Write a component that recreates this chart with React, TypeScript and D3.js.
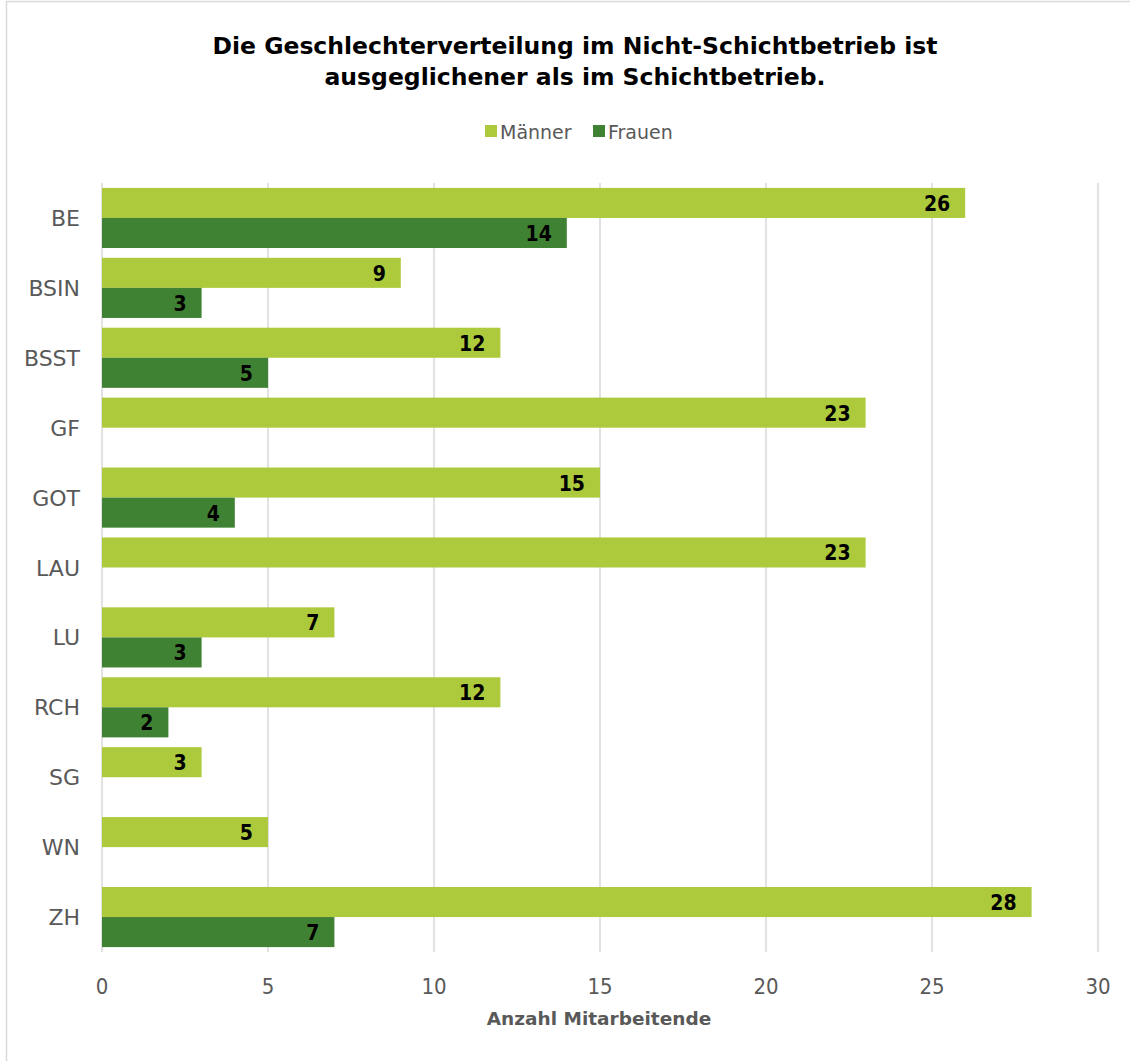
import React from "react";
import * as d3 from "d3";

const categories = ["BE", "BSIN", "BSST", "GF", "GOT", "LAU", "LU", "RCH", "SG", "WN", "ZH"];
const maenner = [26, 9, 12, 23, 15, 23, 7, 12, 3, 5, 28];
const frauen: (number | null)[] = [14, 3, 5, null, 4, null, 3, 2, null, null, 7];
const seriesNames = ["Männer", "Frauen"];
const seriesColors = ["#acca3c", "#408233"];
const xTicks = [0, 5, 10, 15, 20, 25, 30];
const titleLines = [
  "Die Geschlechterverteilung im Nicht-Schichtbetrieb ist",
  "ausgeglichener als im Schichtbetrieb.",
];
const xAxisTitle = "Anzahl Mitarbeitende";

const W = 1130;
const H = 1061;
const FONT_C = "'DejaVu Sans Condensed', 'DejaVu Sans', sans-serif";
const FONT = "'DejaVu Sans', sans-serif";

export default function App() {
  const x = d3.scaleLinear().domain([0, 30]).range([102, 1098]);
  const y0 = d3
    .scaleBand<string>()
    .domain(categories)
    .range([183, 952])
    .paddingInner(0.14)
    .paddingOuter(0.07);
  const y1 = d3.scaleBand<string>().domain(seriesNames).range([0, y0.bandwidth()]);
  const values = [maenner, frauen];

  return (
    <svg
      width={W}
      height={H}
      style={{ position: "absolute", left: 0, top: 0, background: "#fff" }}
      fontFamily={FONT_C}
    >
      <rect x={0} y={0} width={W} height={H} fill="#fff" />
      <rect x={6.5} y={1.5} width={3000} height={3000} fill="none" stroke="#d9d9d9" strokeWidth={1.5} />

      {titleLines.map((t, i) => (
        <text
          key={i}
          x={575}
          y={54 + i * 31}
          textAnchor="middle"
          fontWeight="bold"
          fontSize={23.5}
          fontFamily={FONT}
          fill="#000"
        >
          {t}
        </text>
      ))}

      {/* legend */}
      <g fontFamily={FONT}>
        <rect x={485} y={125} width={12} height={12} fill={seriesColors[0]} />
        <text x={500} y={139} fontSize={19} fill="#595959">{seriesNames[0]}</text>
        <rect x={593} y={125} width={12} height={12} fill={seriesColors[1]} />
        <text x={608} y={139} fontSize={19} fill="#595959">{seriesNames[1]}</text>
      </g>

      {/* gridlines */}
      {xTicks.map((t) => (
        <line
          key={t}
          x1={x(t)}
          x2={x(t)}
          y1={183}
          y2={952}
          stroke="#d9d9d9"
          strokeWidth={1.5}
        />
      ))}

      {/* bars */}
      {categories.map((c, ci) => (
        <g key={c} transform={`translate(0,${y0(c)})`}>
          {seriesNames.map((s, si) => {
            const v = values[si][ci];
            if (v == null) return null;
            const yy = y1(s)!;
            const bh = y1.bandwidth();
            return (
              <g key={s}>
                <rect
                  x={x(0)}
                  y={yy}
                  width={x(v) - x(0)}
                  height={bh}
                  fill={seriesColors[si]}
                />
                <text
                  x={x(v) - 15}
                  y={yy + bh / 2 + 8}
                  textAnchor="end"
                  fontWeight="bold"
                  fontSize={21}
                  fill="#000"
                >
                  {v}
                </text>
              </g>
            );
          })}
        </g>
      ))}

      {/* category labels */}
      {categories.map((c) => (
        <text
          key={c}
          x={80}
          y={y0(c)! + y0.bandwidth() / 2 + 8}
          textAnchor="end"
          fontSize={22}
          fontFamily={FONT}
          fill="#595959"
        >
          {c}
        </text>
      ))}

      {/* x tick labels */}
      {xTicks.map((t) => (
        <text key={t} x={x(t)} y={994} textAnchor="middle" fontSize={22} fill="#595959">
          {t}
        </text>
      ))}

      <text
        x={599}
        y={1025}
        textAnchor="middle"
        fontWeight="bold"
        fontSize={18.5}
        fontFamily={FONT}
        fill="#595959"
      >
        {xAxisTitle}
      </text>
    </svg>
  );
}
